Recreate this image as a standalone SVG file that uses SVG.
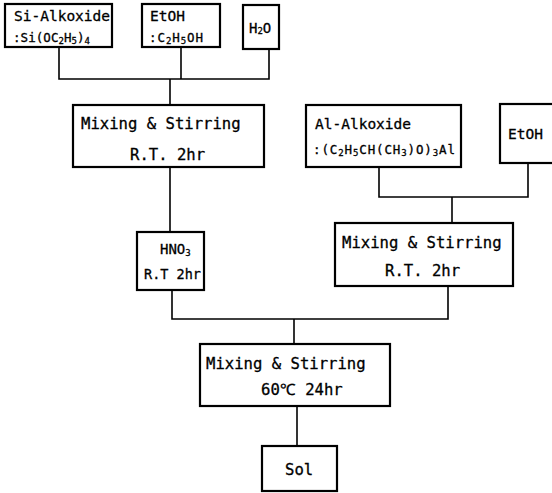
<svg xmlns="http://www.w3.org/2000/svg" width="552" height="493" viewBox="0 0 552 493">
<style>
.box{fill:#fff;stroke:#000;stroke-width:2.2}
.ln{fill:none;stroke:#000;stroke-width:1.6}
text{font-family:"DejaVu Sans Mono","Liberation Mono",monospace;fill:#000;stroke:#000;stroke-width:0.3}
.m{font-size:15.6px}
.h{font-size:14.5px}
.f{font-size:12.5px}
.s{font-size:9px}
</style>
<rect width="552" height="493" fill="#fff"/>
<g id="connectors">
<polyline class="ln" points="59,47 59,79 269,79 269,49"/>
<line class="ln" x1="181" y1="47" x2="181" y2="79"/>
<line class="ln" x1="170" y1="79" x2="170" y2="105"/>
<line class="ln" x1="170" y1="167" x2="170" y2="232"/>
<polyline class="ln" points="379,167 379,197 528,197 528,163"/>
<line class="ln" x1="452" y1="197" x2="452" y2="223"/>
<polyline class="ln" points="172,290 172,319 448,319 448,286"/>
<line class="ln" x1="294" y1="319" x2="294" y2="344"/>
<line class="ln" x1="297" y1="406" x2="297" y2="446"/>
</g>
<g id="si">
<rect class="box" x="5" y="4" width="107" height="43"/>
<text class="h" x="14" y="21">Si-Alkoxide</text>
<text class="f" x="13" y="42" textLength="77">:Si(OC<tspan class="s" dy="2">2</tspan><tspan dy="-2">H</tspan><tspan class="s" dy="2">5</tspan><tspan dy="-2">)</tspan><tspan class="s" dy="2">4</tspan></text>
</g>
<g id="etoh1">
<rect class="box" x="142" y="4" width="78" height="43"/>
<text class="h" x="150" y="21">EtOH</text>
<text class="f" x="149" y="42" textLength="54">:C<tspan class="s" dy="2">2</tspan><tspan dy="-2">H</tspan><tspan class="s" dy="2">5</tspan><tspan dy="-2">OH</tspan></text>
</g>
<g id="h2o">
<rect class="box" x="243" y="5" width="36" height="44"/>
<text x="249" y="33" style="font-size:14px">H<tspan class="s" dy="1">2</tspan><tspan dy="-1">O</tspan></text>
</g>
<g id="mix1">
<rect class="box" x="73" y="105" width="191" height="62"/>
<text class="m" x="81" y="129">Mixing &amp; Stirring</text>
<text class="m" x="130" y="160">R.T. 2hr</text>
</g>
<g id="al">
<rect class="box" x="306" y="105" width="155" height="62"/>
<text class="h" x="315" y="129">Al-Alkoxide</text>
<text class="f" x="313" y="154" textLength="142">:(C<tspan class="s" dy="2">2</tspan><tspan dy="-2">H</tspan><tspan class="s" dy="2">5</tspan><tspan dy="-2">CH(CH</tspan><tspan class="s" dy="2">3</tspan><tspan dy="-2">)O)</tspan><tspan class="s" dy="2">3</tspan><tspan dy="-2">Al</tspan></text>
</g>
<g id="etoh2">
<rect class="box" x="500" y="104" width="60" height="59"/>
<text class="h" x="508" y="139">EtOH</text>
</g>
<g id="hno3">
<rect class="box" x="137" y="232" width="67" height="58"/>
<text x="160" y="254" style="font-size:14px">HNO<tspan class="s" dy="2">3</tspan></text>
<text x="144" y="279" style="font-size:13.5px" textLength="57">R.T 2hr</text>
</g>
<g id="mix2">
<rect class="box" x="335" y="223" width="178" height="63"/>
<text class="m" x="342" y="248">Mixing &amp; Stirring</text>
<text class="m" x="385" y="276">R.T. 2hr</text>
</g>
<g id="mix3">
<rect class="box" x="200" y="344" width="190" height="62"/>
<text class="m" x="206" y="369">Mixing &amp; Stirring</text>
<text class="m" x="261" y="395">60℃ 24hr</text>
</g>
<g id="sol">
<rect class="box" x="262" y="446" width="75" height="45"/>
<text class="m" x="285" y="475">Sol</text>
</g>
</svg>
